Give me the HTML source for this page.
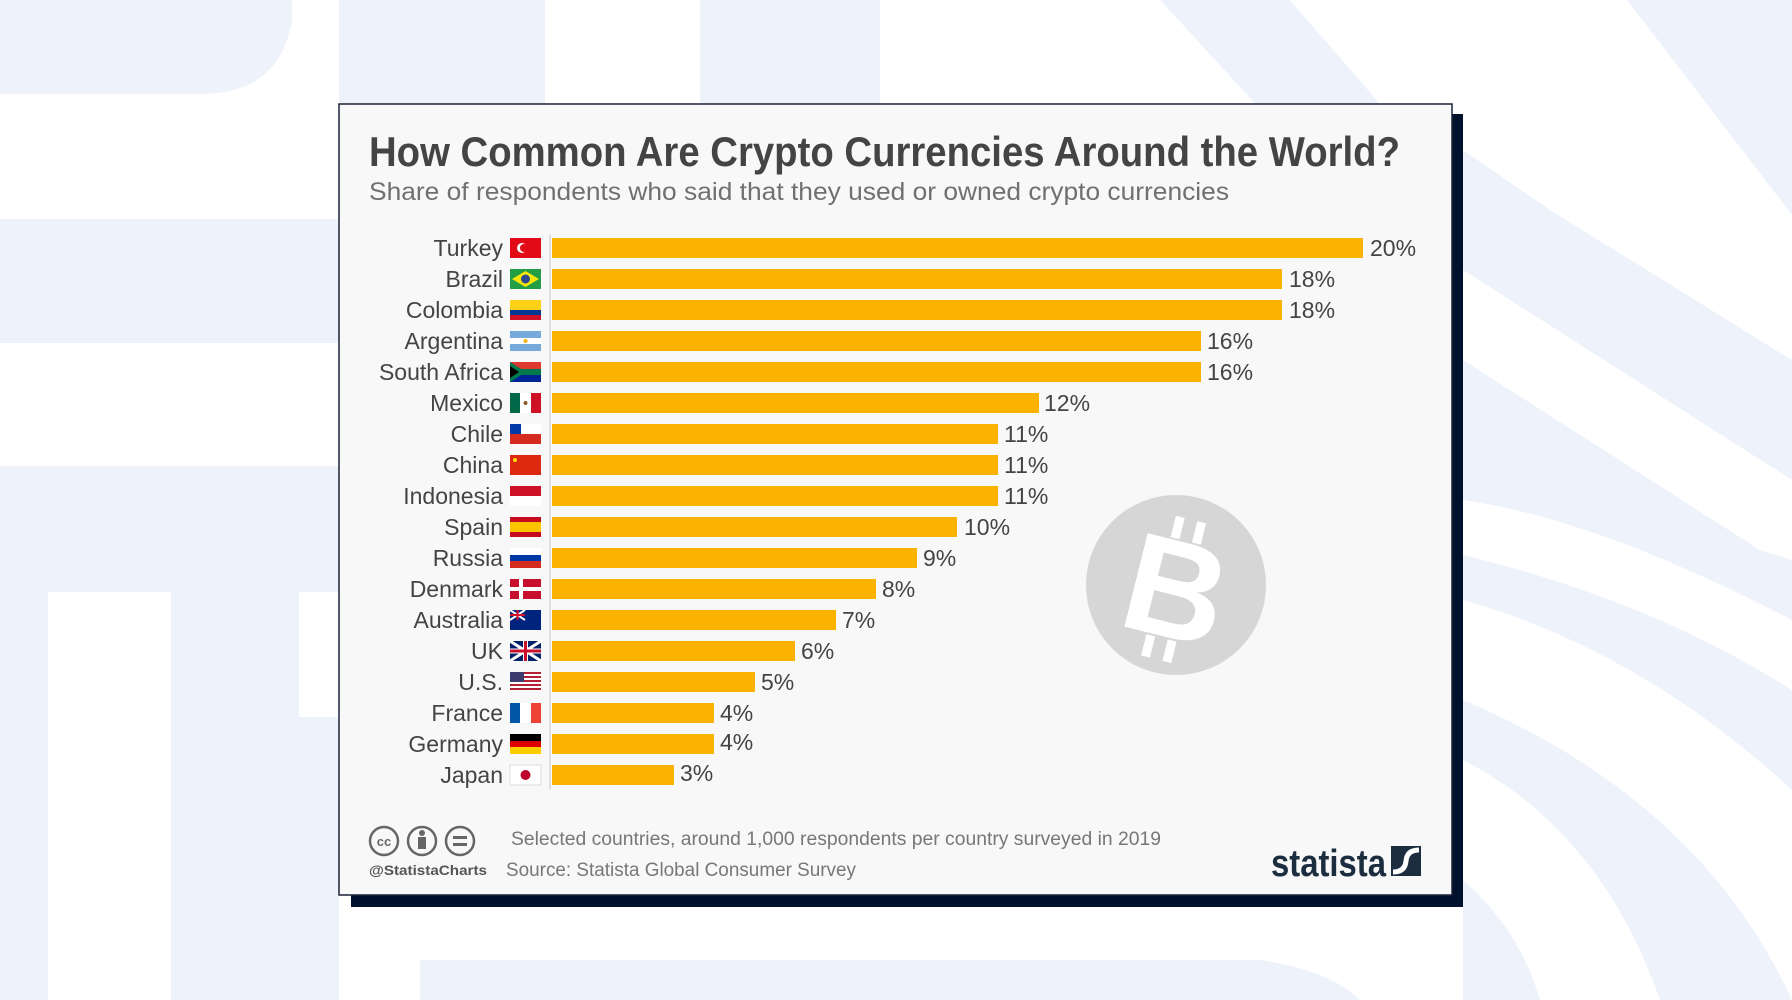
<!DOCTYPE html>
<html><head><meta charset="utf-8"><style>
html,body{margin:0;padding:0;background:#fff;}
svg{display:block;}
text{font-family:"Liberation Sans",sans-serif;}
</style></head><body>
<svg width="1792" height="1000" viewBox="0 0 1792 1000" xmlns="http://www.w3.org/2000/svg">
<!-- background -->
<rect width="1792" height="1000" fill="#ffffff"/>
<g fill="#eef3fb">
  <path d="M0 0 H292 V20 Q280 94 200 94 H0 Z"/>
  <rect x="339" y="0" width="206" height="104"/>
  <rect x="700" y="0" width="180" height="104"/>
  <rect x="0" y="219" width="339" height="124"/>
  <path d="M0 466 H339 V1000 H0 Z"/>
  <path d="M420 960 H1260 Q1330 970 1360 1000 H420 Z"/>
  <path d="M1160 0 H1290 L1463 200 V330 Z"/>
  <path d="M1627 0 H1792 V215 Z"/>
  <path d="M1463 150 L1550 210 L1792 360 V480 L1463 270 Z"/>
  <path d="M1463 360 L1760 550 L1792 560 V620 Q1600 520 1463 500 Z"/>
  <path d="M1463 555 Q1650 600 1792 690 V790 Q1640 650 1463 600 Z"/>
  <path d="M1463 700 Q1700 800 1792 1000 H1660 Q1600 830 1463 760 Z"/>
  <path d="M1463 880 Q1520 930 1540 1000 H1463 Z"/>
</g>
<g fill="#ffffff">
  <rect x="48" y="592" width="123" height="408"/>
  <rect x="299" y="592" width="40" height="125"/>
</g>
<!-- card shadow + card -->
<rect x="351" y="114" width="1112" height="793" fill="#00112e"/>
<rect x="339" y="104" width="1113" height="791" fill="#f8f8f8" stroke="#1a2238" stroke-width="1.5"/>
<!-- title -->
<text x="369" y="166" font-size="42" font-weight="bold" fill="#444" textLength="1031" lengthAdjust="spacingAndGlyphs">How Common Are Crypto Currencies Around the World?</text>
<text x="369" y="200" font-size="25" fill="#707070" textLength="860" lengthAdjust="spacingAndGlyphs">Share of respondents who said that they used or owned crypto currencies</text>
<!-- bitcoin -->
<circle cx="1176" cy="585" r="90" fill="#d6d6d6"/>
<g transform="translate(1176,590) rotate(14)" fill="#fff">
  <rect x="-18" y="-72" width="9" height="22"/>
  <rect x="4" y="-72" width="9" height="22"/>
  <rect x="-18" y="50" width="9" height="22"/>
  <rect x="4" y="50" width="9" height="22"/>
  <text x="0" y="48" font-size="140" font-weight="bold" text-anchor="middle" fill="#fff">B</text>
</g>
<!-- axis -->
<line x1="550" y1="234" x2="550" y2="790" stroke="#d8d8d8" stroke-width="1.5"/>
<g id="rows" font-size="23" fill="#444"></g>
<!-- rows -->
<g font-size="23" fill="#444">
<!-- generated manually -->
<text x="503" y="256" text-anchor="end">Turkey</text><rect x="552" y="238" width="811" height="20" fill="#fbb300"/><text x="1370" y="256">20%</text>
<text x="503" y="287" text-anchor="end">Brazil</text><rect x="552" y="269" width="730" height="20" fill="#fbb300"/><text x="1289" y="287">18%</text>
<text x="503" y="318" text-anchor="end">Colombia</text><rect x="552" y="300" width="730" height="20" fill="#fbb300"/><text x="1289" y="318">18%</text>
<text x="503" y="349" text-anchor="end">Argentina</text><rect x="552" y="331" width="649" height="20" fill="#fbb300"/><text x="1207" y="349">16%</text>
<text x="503" y="380" text-anchor="end">South Africa</text><rect x="552" y="362" width="649" height="20" fill="#fbb300"/><text x="1207" y="380">16%</text>
<text x="503" y="411" text-anchor="end">Mexico</text><rect x="552" y="393" width="487" height="20" fill="#fbb300"/><text x="1044" y="411">12%</text>
<text x="503" y="442" text-anchor="end">Chile</text><rect x="552" y="424" width="446" height="20" fill="#fbb300"/><text x="1004" y="442">11%</text>
<text x="503" y="473" text-anchor="end">China</text><rect x="552" y="455" width="446" height="20" fill="#fbb300"/><text x="1004" y="473">11%</text>
<text x="503" y="504" text-anchor="end">Indonesia</text><rect x="552" y="486" width="446" height="20" fill="#fbb300"/><text x="1004" y="504">11%</text>
<text x="503" y="535" text-anchor="end">Spain</text><rect x="552" y="517" width="405" height="20" fill="#fbb300"/><text x="964" y="535">10%</text>
<text x="503" y="566" text-anchor="end">Russia</text><rect x="552" y="548" width="365" height="20" fill="#fbb300"/><text x="923" y="566">9%</text>
<text x="503" y="597" text-anchor="end">Denmark</text><rect x="552" y="579" width="324" height="20" fill="#fbb300"/><text x="882" y="597">8%</text>
<text x="503" y="628" text-anchor="end">Australia</text><rect x="552" y="610" width="284" height="20" fill="#fbb300"/><text x="842" y="628">7%</text>
<text x="503" y="659" text-anchor="end">UK</text><rect x="552" y="641" width="243" height="20" fill="#fbb300"/><text x="801" y="659">6%</text>
<text x="503" y="690" text-anchor="end">U.S.</text><rect x="552" y="672" width="203" height="20" fill="#fbb300"/><text x="761" y="690">5%</text>
<text x="503" y="721" text-anchor="end">France</text><rect x="552" y="703" width="162" height="20" fill="#fbb300"/><text x="720" y="721">4%</text>
<text x="503" y="752" text-anchor="end">Germany</text><rect x="552" y="734" width="162" height="20" fill="#fbb300"/><text x="720" y="750">4%</text>
<text x="503" y="783" text-anchor="end">Japan</text><rect x="552" y="765" width="122" height="20" fill="#fbb300"/><text x="680" y="781">3%</text>
</g>
<!-- flags -->
<g>
<rect x="510" y="238" width="31" height="20" fill="#e30a17"/><circle cx="522" cy="248" r="5" fill="#fff"/><circle cx="524" cy="248" r="4" fill="#e30a17"/>
<rect x="510" y="269" width="31" height="20" fill="#229e45"/><path d="M525.5 271 L539 279 L525.5 287 L512 279Z" fill="#f8e509"/><circle cx="525.5" cy="279" r="4.5" fill="#2b4990"/>
<rect x="510" y="300" width="31" height="10" fill="#fcd116"/><rect x="510" y="310" width="31" height="5" fill="#003893"/><rect x="510" y="315" width="31" height="5" fill="#ce1126"/>
<rect x="510" y="331" width="31" height="20" fill="#75aadb"/><rect x="510" y="338" width="31" height="6" fill="#fff"/><circle cx="525.5" cy="341" r="2" fill="#f6b40e"/>
<rect x="510" y="362" width="31" height="10" fill="#de3831"/><rect x="510" y="372" width="31" height="10" fill="#002395"/><path d="M510 362 L526 372 L510 382Z" fill="#007a4d"/><path d="M518 369 H541 V375 H518 L510 380 V364 Z" fill="#007a4d"/><path d="M510 366 L519 372 L510 378Z" fill="#000"/>
<rect x="510" y="393" width="10" height="20" fill="#006847"/><rect x="520" y="393" width="11" height="20" fill="#fff"/><rect x="531" y="393" width="10" height="20" fill="#ce1126"/><circle cx="525.5" cy="403" r="2" fill="#8b5a2b"/>
<rect x="510" y="424" width="31" height="10" fill="#fff"/><rect x="510" y="424" width="11" height="10" fill="#0039a6"/><rect x="510" y="434" width="31" height="10" fill="#d52b1e"/>
<rect x="510" y="455" width="31" height="20" fill="#de2910"/><circle cx="515" cy="460" r="2" fill="#ffde00"/>
<rect x="510" y="486" width="31" height="10" fill="#ce1126"/><rect x="510" y="496" width="31" height="10" fill="#fff"/>
<rect x="510" y="517" width="31" height="20" fill="#c60b1e"/><rect x="510" y="522" width="31" height="10" fill="#ffc400"/>
<rect x="510" y="548" width="31" height="7" fill="#fff"/><rect x="510" y="555" width="31" height="6" fill="#0039a6"/><rect x="510" y="561" width="31" height="7" fill="#d52b1e"/>
<rect x="510" y="579" width="31" height="20" fill="#c8102e"/><rect x="519" y="579" width="4" height="20" fill="#fff"/><rect x="510" y="587" width="31" height="4" fill="#fff"/>
<rect x="510" y="610" width="31" height="20" fill="#00247d"/><path d="M510 610 L525 620 M525 610 L510 620" stroke="#fff" stroke-width="2"/><path d="M517.5 610 V620 M510 615 H525" stroke="#cf142b" stroke-width="2"/>
<rect x="510" y="641" width="31" height="20" fill="#012169"/><path d="M510 641 L541 661 M541 641 L510 661" stroke="#fff" stroke-width="3"/><path d="M525.5 641 V661 M510 651 H541" stroke="#fff" stroke-width="5"/><path d="M525.5 641 V661 M510 651 H541" stroke="#c8102e" stroke-width="3"/>
<rect x="510" y="672" width="31" height="20" fill="#fff"/><g fill="#b22234"><rect x="510" y="672" width="31" height="2"/><rect x="510" y="676" width="31" height="2"/><rect x="510" y="680" width="31" height="2"/><rect x="510" y="684" width="31" height="2"/><rect x="510" y="688" width="31" height="2"/></g><rect x="510" y="672" width="14" height="10" fill="#3c3b6e"/>
<rect x="510" y="703" width="10" height="20" fill="#0055a4"/><rect x="520" y="703" width="11" height="20" fill="#fff"/><rect x="531" y="703" width="10" height="20" fill="#ef4135"/>
<rect x="510" y="734" width="31" height="7" fill="#000"/><rect x="510" y="741" width="31" height="6" fill="#dd0000"/><rect x="510" y="747" width="31" height="7" fill="#ffce00"/>
<rect x="510" y="765" width="31" height="20" fill="#fff" stroke="#ddd"/><circle cx="525.5" cy="775" r="5" fill="#bc002d"/>
</g>
<!-- footer -->
<g fill="none" stroke="#666" stroke-width="2.5">
  <circle cx="384" cy="841" r="14"/><circle cx="422" cy="841" r="14"/><circle cx="460" cy="841" r="14"/>
</g>
<text x="384" y="846" font-size="13" font-weight="bold" fill="#666" text-anchor="middle">cc</text>
<circle cx="422" cy="833" r="3" fill="#666"/><rect x="418" y="837" width="8" height="12" fill="#666"/>
<rect x="453" y="836" width="14" height="3" fill="#666"/><rect x="453" y="843" width="14" height="3" fill="#666"/>
<text x="369" y="875" font-size="14" font-weight="bold" fill="#555" textLength="118" lengthAdjust="spacingAndGlyphs">@StatistaCharts</text>
<text x="511" y="845" font-size="19" fill="#777" textLength="650" lengthAdjust="spacingAndGlyphs">Selected countries, around 1,000 respondents per country surveyed in 2019</text>
<text x="506" y="876" font-size="19" fill="#777" textLength="350" lengthAdjust="spacingAndGlyphs">Source: Statista Global Consumer Survey</text>
<text x="1271" y="876" font-size="38" font-weight="bold" fill="#1b2d3e" textLength="115" lengthAdjust="spacingAndGlyphs">statista</text>
<rect x="1391" y="846" width="30" height="30" fill="#1b2d3e"/>
<path d="M1393 872 Q1405 872 1406 861 Q1407 850 1419 850" stroke="#fff" stroke-width="5" fill="none"/>
</svg>
</body></html>
